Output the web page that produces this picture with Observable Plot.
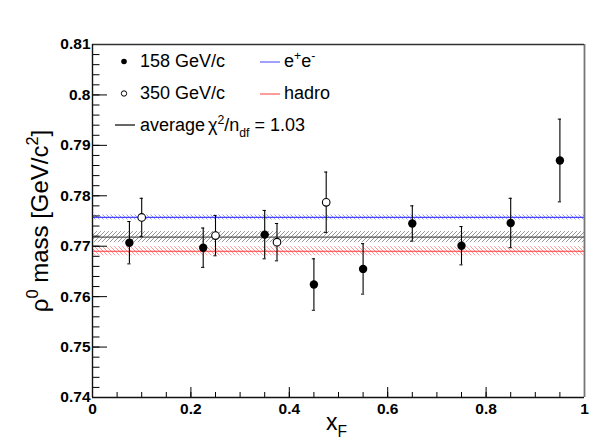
<!DOCTYPE html>
<html><head><meta charset="utf-8">
<script src="https://cdn.jsdelivr.net/npm/d3@7"></script>
<script src="https://cdn.jsdelivr.net/npm/@observablehq/plot@0.6"></script>
<style>
html,body{margin:0;padding:0;background:#fff;}
#chart svg{display:block;}
</style>
</head><body><div id="chart"></div>
<script>
// ---- data ----
const xF158   = [0.075, 0.225, 0.35, 0.45, 0.55, 0.65, 0.75, 0.85, 0.95];
const mass158 = [0.7707, 0.7697, 0.7723, 0.7624, 0.7655, 0.7745, 0.7701, 0.7746, 0.7870];
const err158  = [0.0042, 0.0039, 0.0048, 0.0051, 0.0050, 0.0035, 0.0038, 0.0049, 0.0082];
const xF350   = [0.10, 0.25, 0.375, 0.475];
const mass350 = [0.7757, 0.7721, 0.7708, 0.7787];
const err350  = [0.0038, 0.0040, 0.0037, 0.0060];
const bandNames  = ["e+e-", "average", "hadro"];
const bandCenter = [0.7757, 0.7718, 0.7690];
const bandHalf   = [0.0005, 0.0011, 0.0009];
const xTicks = [0, 0.2, 0.4, 0.6, 0.8, 1];
const xTickLabels = ["0", "0.2", "0.4", "0.6", "0.8", "1"];
const yTicks = [0.74, 0.75, 0.76, 0.77, 0.78, 0.79, 0.80, 0.81];
const yTickLabels = ["0.74", "0.75", "0.76", "0.77", "0.78", "0.79", "0.8", "0.81"];
const legendLeft  = ["158 GeV/c", "350 GeV/c", "average"];
const legendRight = ["e^{+}e^{-}", "hadro"];
const chi2Text = "χ^{2}/n_{df} = 1.03";
const xTitle = "x_{F}";
const yTitle = "ρ^{0} mass [GeV/c^{2}]";

// ---- layout / styles ----
const W = 615, H = 442, ML = 92, MR = 31, MT = 44, MB = 45;
const xDom = [0, 1], yDom = [0.74, 0.81];
const xAt = px => xDom[0] + (px - ML) / (W - ML - MR) * (xDom[1] - xDom[0]);
const yAt = py => yDom[1] - (py - MT) / (H - MT - MB) * (yDom[1] - yDom[0]);
const dX = px => px / (W - ML - MR) * (xDom[1] - xDom[0]);
const dY = px => px / (H - MT - MB) * (yDom[1] - yDom[0]);
const bandLine  = ["#4646ff", "#555555", "#ff3a3a"];
const bandHatch = ["#8c8cff", "#8a8a8a", "#ff8c8c"];
const bandDir   = ["\\", "/", "\\"];
const legendLineColor = ["#6060ff", "#ff5a5a"];

const d158 = xF158.map((x, i) => ({x, y: mass158[i], e: err158[i]}));
const d350 = xF350.map((x, i) => ({x, y: mass350[i], e: err350[i]}));
const xMinor = d3.range(0, 1.0001, 0.05);
const yMinor = d3.range(0.74, 0.81001, 0.002);

const marks = [];
// hatched bands + central lines
bandCenter.forEach((c, i) => {
  marks.push(Plot.rect([c], {x1: xDom[0], x2: xDom[1], y1: d => d - bandHalf[i], y2: d => d + bandHalf[i], fill: `url(#hatch${i})`}));
});
bandCenter.forEach((c, i) => {
  marks.push(Plot.ruleY([c], {x1: xDom[0], x2: xDom[1], stroke: bandLine[i], strokeWidth: 1.2}));
});
// ticks
marks.push(Plot.ruleX(xMinor, {y1: yDom[0], y2: yDom[0] + dY(5), stroke: "#000", strokeWidth: 1}));
marks.push(Plot.ruleX(xTicks, {y1: yDom[0], y2: yDom[0] + dY(10), stroke: "#000", strokeWidth: 1}));
marks.push(Plot.ruleY(yMinor, {x1: xDom[0], x2: xDom[0] + dX(7.5), stroke: "#000", strokeWidth: 1}));
marks.push(Plot.ruleY(yTicks, {x1: xDom[0], x2: xDom[0] + dX(15), stroke: "#000", strokeWidth: 1}));
// frame: dark left/bottom, greyer top/right as in the reference
marks.push(Plot.ruleX([xDom[1]], {y1: yDom[0], y2: yDom[1], stroke: "#777", strokeWidth: 1.8}));
marks.push(Plot.ruleY([yDom[1]], {x1: xDom[0], x2: xDom[1], stroke: "#333", strokeWidth: 1.4}));
marks.push(Plot.ruleX([xDom[0]], {y1: yDom[0], y2: yDom[1], stroke: "#111", strokeWidth: 1.4}));
marks.push(Plot.ruleY([yDom[0]], {x1: xDom[0], x2: xDom[1], stroke: "#111", strokeWidth: 1.4}));
// tick labels
marks.push(Plot.text(yTicks, {x: xDom[0], y: d => d, text: (d, i) => yTickLabels[i], textAnchor: "end", dx: -2, fontSize: 15.5, fontWeight: "bold", fill: "#000"}));
marks.push(Plot.text(xTicks, {x: d => d, y: yDom[0], text: (d, i) => xTickLabels[i], textAnchor: "middle", lineAnchor: "top", dy: 5.5, fontSize: 15.5, fontWeight: "bold", fill: "#000"}));
// error bars
for (const ds of [d158, d350]) {
  marks.push(Plot.ruleX(ds, {x: "x", y1: d => d.y - d.e, y2: d => d.y + d.e, stroke: "#000", strokeWidth: 1.1}));
  marks.push(Plot.ruleY(ds, {y: d => d.y + d.e, x1: d => d.x - dX(1.6), x2: d => d.x + dX(1.6), stroke: "#000", strokeWidth: 1}));
  marks.push(Plot.ruleY(ds, {y: d => d.y - d.e, x1: d => d.x - dX(1.6), x2: d => d.x + dX(1.6), stroke: "#000", strokeWidth: 1}));
}
marks.push(Plot.dot(d158, {x: "x", y: "y", r: 4.2, fill: "#000", stroke: "none"}));
marks.push(Plot.dot(d350, {x: "x", y: "y", r: 3.8, fill: "#fff", stroke: "#000", strokeWidth: 1.1}));

// legend
const rowY = i => 61 + 32 * i;
marks.push(Plot.dot([0], {x: () => xAt(123.5), y: () => yAt(rowY(0)), r: 2.8, fill: "#000", stroke: "none"}));
marks.push(Plot.dot([1], {x: () => xAt(123.5), y: () => yAt(rowY(1)), r: 2.7, fill: "#fff", stroke: "#000", strokeWidth: 1}));
marks.push(Plot.ruleY([2], {y: () => yAt(rowY(2) - 0.5), x1: () => xAt(115), x2: () => xAt(135), stroke: "#000", strokeWidth: 1.2}));
legendLeft.forEach((t, i) => {
  marks.push(Plot.text([t], {x: () => xAt(139.5), y: () => yAt(rowY(i)), text: d => d, textAnchor: "start", lineAnchor: "middle", fontSize: 18, fill: "#000"}));
});
legendRight.forEach((t, i) => {
  marks.push(Plot.ruleY([i], {y: () => yAt(rowY(i) + 0.5), x1: () => xAt(260), x2: () => xAt(280), stroke: legendLineColor[i], strokeWidth: 1.2}));
  marks.push(Plot.text([t], {x: () => xAt(283.5), y: () => yAt(rowY(i)), text: d => d, textAnchor: "start", lineAnchor: "middle", fontSize: 18, fill: "#000"}));
});
marks.push(Plot.text([chi2Text], {x: () => xAt(207.5), y: () => yAt(rowY(2)), text: d => d, textAnchor: "start", lineAnchor: "middle", fontSize: 18, fill: "#000"}));

// axis titles
marks.push(Plot.text([xTitle], {frameAnchor: "bottom", dy: 25.5, dx: -2, text: d => d, textAnchor: "middle", lineAnchor: "middle", fontSize: 23, fill: "#000"}));
marks.push(Plot.text([yTitle], {frameAnchor: "left", dx: -52, text: d => d, rotate: -90, textAnchor: "middle", lineAnchor: "middle", fontSize: 24, fill: "#000"}));

const svg = Plot.plot({
  width: W, height: H,
  marginLeft: ML, marginRight: MR, marginTop: MT, marginBottom: MB,
  x: {domain: xDom, axis: null},
  y: {domain: yDom, axis: null},
  style: {fontFamily: "'Liberation Sans', Arial, Helvetica, sans-serif", background: "#fff", overflow: "visible"},
  marks
});

// hatch patterns
const defs = d3.select(svg).insert("defs", ":first-child");
bandDir.forEach((dir, i) => {
  const p = defs.append("pattern").attr("id", `hatch${i}`).attr("patternUnits", "userSpaceOnUse").attr("width", 4).attr("height", 4);
  const path = dir === "/" ? "M-1,1 l2,-2 M0,4 l4,-4 M3,5 l2,-2" : "M-1,3 l2,2 M0,0 l4,4 M3,-1 l2,2";
  p.append("path").attr("d", path).attr("stroke", bandHatch[i]).attr("stroke-width", 0.9).attr("fill", "none");
});

document.getElementById("chart").appendChild(svg);

// simple ^{..} / _{..} rich text
d3.select(svg).selectAll("text").each(function() {
  const s = this.textContent;
  if (!/[\^_]\{/.test(s)) return;
  const fs = parseFloat(getComputedStyle(this).fontSize) || 16;
  const parts = []; const re = /([\^_])\{([^}]*)\}/g; let last = 0, m;
  while ((m = re.exec(s))) {
    if (m.index > last) parts.push({t: s.slice(last, m.index), k: ""});
    parts.push({t: m[2], k: m[1]});
    last = re.lastIndex;
  }
  if (last < s.length) parts.push({t: s.slice(last), k: ""});
  while (this.firstChild) this.removeChild(this.firstChild);
  let cur = 0;
  for (const p of parts) {
    const ts = document.createElementNS("http://www.w3.org/2000/svg", "tspan");
    const target = p.k === "^" ? -0.42 * fs : p.k === "_" ? 0.3 * fs : 0;
    ts.setAttribute("dy", target - cur); cur = target;
    if (p.k) ts.setAttribute("font-size", 0.68 * fs);
    ts.textContent = p.t;
    this.appendChild(ts);
  }
});
</script>
</body></html>
